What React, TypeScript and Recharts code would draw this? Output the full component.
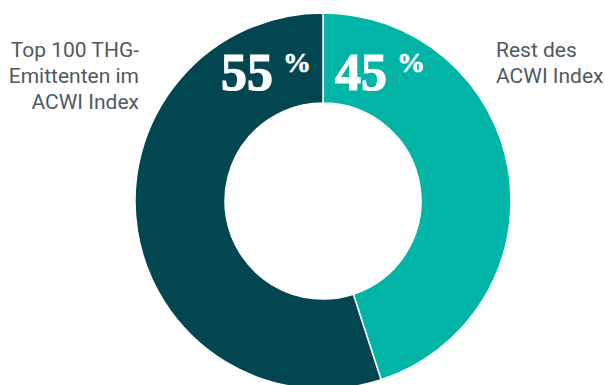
import { PieChart, Pie, Cell } from "recharts";

const segments = ["Rest des ACWI Index", "Top 100 THG-Emittenten im ACWI Index"];
const shares = [45, 55];
const nameLines = [
  ["Rest des", "ACWI Index"],
  ["Top 100 THG-", "Emittenten im", "ACWI Index"],
];

const COLORS = ["#00b5a6", "#02464f"];

const data = segments.map((name, i) => ({ name, value: shares[i], lines: nameLines[i] }));

const renderLabel = (props: any) => {
  const { cx, cy, outerRadius, midAngle, index, value } = props;
  const left = Math.cos((midAngle * Math.PI) / 180) < 0;
  const side = left ? -1 : 1;
  const numX = cx + side * 12;
  const numY = cy - 111;
  const lines: string[] = data[index].lines;
  const nameX = left ? cx - outerRadius + 4 : cx + outerRadius - 15;
  return (
    <g key={index}>
      <text
        x={numX}
        y={numY}
        textAnchor={left ? "end" : "start"}
        fill="#ffffff"
        stroke="#ffffff"
        strokeWidth={1.2}
        fontFamily="'Liberation Serif', serif"
        fontWeight="bold"
      >
        <tspan fontSize={52}>{value}</tspan>
        <tspan fontSize={28} dx={10} dy={-18} strokeWidth={0.6}>%</tspan>
      </text>
      <text
        x={nameX}
        y={57}
        textAnchor={left ? "end" : "start"}
        fill="#4f5a60"
        fontFamily="Roboto, sans-serif"
        fontSize={21}
      >
        {lines.map((l, i) => (
          <tspan key={i} x={nameX} dy={i === 0 ? 0 : 26}>{l}</tspan>
        ))}
      </text>
    </g>
  );
};

export default function App() {
  return (
    <div style={{ position: "absolute", left: 0, top: 0 }}>
      <PieChart width={605} height={385} margin={{ top: 0, right: 0, bottom: 0, left: 0 }}>
        <Pie
          data={data}
          dataKey="value"
          nameKey="name"
          cx={323}
          cy={201}
          innerRadius={98}
          outerRadius={188}
          startAngle={90}
          endAngle={-270}
          stroke="#ffffff"
          strokeWidth={1.5}
          label={renderLabel}
          labelLine={false}
          isAnimationActive={false}
        >
          {data.map((_, i) => (
            <Cell key={i} fill={COLORS[i]} />
          ))}
        </Pie>
      </PieChart>
    </div>
  );
}
